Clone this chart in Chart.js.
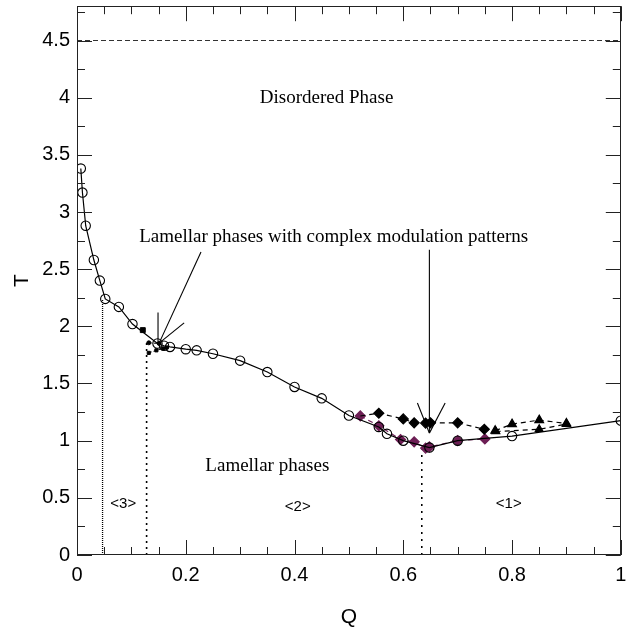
<!DOCTYPE html>
<html><head><meta charset="utf-8">
<script src="https://cdn.jsdelivr.net/npm/chart.js@4"></script>
<style>html,body{margin:0;padding:0;background:#fff}</style>
</head><body>
<canvas id="c" width="627" height="634"></canvas>
<script>
// ---- data ----
const mainQ = [0.007,0.010,0.016,0.031,0.042,0.052,0.077,0.102,0.148,0.160,0.171,0.200,0.220,0.250,0.300,0.350,0.400,0.450,0.500,0.555,0.570,0.600,0.648,0.700,0.800,1.000];
const mainT = [3.38,3.17,2.88,2.58,2.40,2.24,2.17,2.02,1.85,1.83,1.82,1.80,1.79,1.76,1.70,1.60,1.47,1.37,1.22,1.12,1.06,1.00,0.94,1.00,1.04,1.175];

const upperDiaQ = [0.521,0.555,0.600,0.620,0.641,0.650,0.700,0.749,0.769];
const upperDiaT = [1.216,1.24,1.19,1.156,1.154,1.156,1.156,1.10,1.087];

const purpleQ = [0.521,0.555,0.595,0.620,0.641,0.648,0.700,0.750];
const purpleT = [1.216,1.13,1.01,0.99,0.935,0.945,1.00,1.015];

const triUpQ = [0.769,0.800,0.850,0.900];
const triUpT = [1.087,1.145,1.18,1.15];
const triLowQ = [0.770,0.850,0.900];
const triLowT = [1.08,1.10,1.145];

const dotsAQ = [0.132,0.151];
const dotsAT = [1.856,1.85];
const dotsBQ = [0.132,0.146,0.158,0.165];
const dotsBT = [1.768,1.79,1.807,1.815];
const squareQ = [0.121];
const squareT = [1.967];

const boundQ = [0.047,0.128,0.634];
const boundTop = [2.24,1.86,0.92];
const disorderT = 4.5;

const xTickLabels = ['0','0.2','0.4','0.6','0.8','1'];
const yTickLabels = ['0','0.5','1','1.5','2','2.5','3','3.5','4','4.5'];

const texts = [
  {t:'Disordered Phase', q:0.459, T:4.0, font:'19px "Liberation Serif"'},
  {t:'Lamellar phases with complex modulation patterns', q:0.472, T:2.78, font:'19px "Liberation Serif"'},
  {t:'Lamellar phases', q:0.35, T:0.78, font:'19px "Liberation Serif"'},
  {t:'<3>', q:0.085, T:0.45, font:'15px "Liberation Sans"'},
  {t:'<2>', q:0.406, T:0.42, font:'15px "Liberation Sans"'},
  {t:'<1>', q:0.794, T:0.45, font:'15px "Liberation Sans"'}
];
const arrows = [
  [[0.228,2.65],[0.151,1.853]],
  [[0.197,2.03],[0.151,1.853]],
  [[0.149,2.12],[0.149,1.853]],
  [[0.648,2.67],[0.648,1.066]],
  [[0.626,1.33],[0.648,1.066]],
  [[0.677,1.33],[0.648,1.066]]
];

const pts = (qs,ts)=>qs.map((q,i)=>({x:q,y:ts[i]}));
const PURPLE = '#6d1f55';

const datasets = [
  {data:[{x:0,y:disorderT},{x:1,y:disorderT}], borderColor:'#333', borderWidth:1.2, borderDash:[5,3], pointRadius:0},
  {data:[{x:boundQ[0],y:0},{x:boundQ[2],y:0}], borderColor:'#000', borderWidth:1, borderDash:[1,2], pointRadius:0},
  {data:[{x:boundQ[0],y:0},{x:boundQ[0],y:boundTop[0]}], borderColor:'#000', borderWidth:1.3, borderDash:[1,1], pointRadius:0},
  {data:[{x:boundQ[1],y:0},{x:boundQ[1],y:boundTop[1]}], borderColor:'#000', borderWidth:1.6, borderDash:[2,4], pointRadius:0},
  {data:[{x:boundQ[2],y:0},{x:boundQ[2],y:boundTop[2]}], borderColor:'#000', borderWidth:1.6, borderDash:[2,5], pointRadius:0},
  {data:pts(upperDiaQ,upperDiaT), borderColor:'#000', borderWidth:1.2, borderDash:[5,4], pointStyle:'rectRot',
   pointRadius:upperDiaQ.map((q,i)=> (i===0||i===upperDiaQ.length-1)?0:5), pointBackgroundColor:'#000', pointBorderColor:'#000'},
  {data:pts(triUpQ,triUpT), borderColor:'#000', borderWidth:1.2, borderDash:[5,4], pointStyle:'triangle', pointRadius:5, pointBackgroundColor:'#000', pointBorderColor:'#000'},
  {data:pts(triLowQ,triLowT), borderColor:'#000', borderWidth:1.2, borderDash:[5,4], pointStyle:'triangle', pointRadius:4.5, pointBackgroundColor:'#000', pointBorderColor:'#000'},
  {data:pts(mainQ,mainT), borderColor:'#000', borderWidth:1.2, pointStyle:'circle', pointRadius:4.7, pointBackgroundColor:'rgba(255,255,255,0)', pointBorderColor:'#000', pointBorderWidth:1.1},
  {data:pts(purpleQ,purpleT), borderColor:PURPLE, borderWidth:1.2, borderDash:[5,4], pointStyle:'rectRot', pointRadius:5, pointBackgroundColor:PURPLE, pointBorderColor:PURPLE},
  {data:pts(dotsAQ,dotsAT), borderColor:'#000', borderWidth:1, borderDash:[3,2], pointStyle:'circle', pointRadius:2, pointBackgroundColor:'#000', pointBorderColor:'#000'},
  {data:pts(dotsBQ,dotsBT), borderColor:'#000', borderWidth:1, borderDash:[3,2], pointStyle:'rect', pointRadius:2.2, pointBackgroundColor:'#000', pointBorderColor:'#000'},
  {data:pts(squareQ,squareT), showLine:false, pointStyle:'rect', pointRadius:3.5, pointBackgroundColor:'#000', pointBorderColor:'#000'}
];

const decor = {
  id:'decor',
  afterDatasetsDraw(chart){
    const {ctx, chartArea:a, scales:{x,y}} = chart;
    ctx.save();
    ctx.strokeStyle='#000'; ctx.lineWidth=1.1;
    for (const [p0,p1] of arrows){
      ctx.beginPath();
      ctx.moveTo(x.getPixelForValue(p0[0]), y.getPixelForValue(p0[1]));
      ctx.lineTo(x.getPixelForValue(p1[0]), y.getPixelForValue(p1[1]));
      ctx.stroke();
    }
    ctx.fillStyle='#000'; ctx.textAlign='center'; ctx.textBaseline='middle';
    for (const t of texts){
      ctx.font=t.font;
      ctx.fillText(t.t, x.getPixelForValue(t.q), y.getPixelForValue(t.T));
    }
    ctx.strokeStyle='#222'; ctx.lineWidth=1;
    ctx.strokeRect(Math.round(a.left)+0.5, Math.round(a.top)+0.5, Math.round(a.right-a.left)-1, Math.round(a.bottom-a.top)-1);
    ctx.beginPath();
    for (let i=0;i<=20;i++){
      const v=i*0.05, px=Math.round(x.getPixelForValue(v))+0.5, len=(i%4===0)?15:8;
      ctx.moveTo(px,a.bottom); ctx.lineTo(px,a.bottom-len);
      ctx.moveTo(px,a.top); ctx.lineTo(px,a.top+len);
    }
    for (let i=0;i<=19;i++){
      const v=i*0.25, py=Math.round(y.getPixelForValue(v))+0.5, len=(i%2===0)?15:8;
      if (py<a.top) continue;
      ctx.moveTo(a.left,py); ctx.lineTo(a.left+len,py);
      ctx.moveTo(a.right,py); ctx.lineTo(a.right-len,py);
    }
    ctx.stroke();
    ctx.restore();
  }
};

new Chart(document.getElementById('c'), {
  type:'line',
  data:{datasets},
  options:{
    responsive:false, animation:false, devicePixelRatio:1,
    layout:{padding:{left:0,right:1,top:6,bottom:0}},
    plugins:{legend:{display:false}, tooltip:{enabled:false}},
    elements:{line:{tension:0}},
    scales:{
      x:{type:'linear', min:0, max:1,
        grid:{display:false, drawTicks:false}, border:{display:false},
        ticks:{stepSize:0.2, padding:8, color:'#000', font:{family:'"Liberation Sans"', size:20}, maxRotation:0, autoSkip:false,
          callback:(v,i)=>xTickLabels[i]},
        title:{display:true, text:'Q', color:'#000', font:{family:'"Liberation Sans"', size:21}, padding:{top:10,bottom:4}},
        afterFit(s){ s.height=79; s.paddingLeft=0; s.paddingRight=0; }
      },
      y:{type:'linear', min:0, max:4.8,
        grid:{display:false, drawTicks:false}, border:{display:false},
        ticks:{stepSize:0.5, includeBounds:false, padding:7, color:'#000', font:{family:'"Liberation Sans"', size:20},
          callback:(v,i)=>yTickLabels[i]},
        title:{display:true, text:'T', color:'#000', font:{family:'"Liberation Sans"', size:21}, padding:{top:10,bottom:4}},
        afterFit(s){ s.width=77; s.paddingTop=0; s.paddingBottom=0; }
      }
    }
  },
  plugins:[decor]
});
</script>
</body></html>
